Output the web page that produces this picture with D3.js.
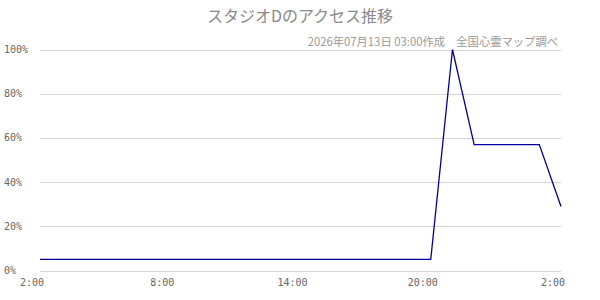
<!DOCTYPE html>
<html><head><meta charset="utf-8">
<script src="https://cdn.jsdelivr.net/npm/d3@7"></script>
<style>body{margin:0;background:#fff}</style>
</head><body>
<svg id="c" width="600" height="300"></svg>
<script>
const titleText = "スタジオDのアクセス推移";
const subtitleText = "2026年07月13日 03:00作成　全国心霊マップ調べ";
// hours elapsed since 2:00
const hours = [0,1,2,3,4,5,6,7,8,9,10,11,12,13,14,15,16,17,18,19,20,21,22,23,24];
const values = [5,5,5,5,5,5,5,5,5,5,5,5,5,5,5,5,5,5,5,100,57,57,57,57,29];
const xTickHours = [0,6,12,18,24];
const xTickLabels = ["2:00","8:00","14:00","20:00","2:00"];
const yTicks = [0,20,40,60,80,100];

const svg = d3.select("#c");
const x = d3.scaleLinear().domain([0,24]).range([40,561]);
const y = d3.scaleLinear().domain([0,100]).range([270.5,49.5]);

svg.append("text").attr("x",300).attr("y",22).attr("text-anchor","middle")
  .attr("font-family","'Noto Sans CJK JP'").attr("font-size",16).attr("fill","#8a8a8a")
  .text(titleText);
svg.append("text").attr("x",558).attr("y",46).attr("text-anchor","end")
  .attr("font-family","'Noto Sans CJK JP'").attr("font-size",11.3).attr("fill","#999")
  .text(subtitleText);

svg.append("g").selectAll("line").data(yTicks).join("line")
  .attr("x1",40).attr("x2",561)
  .attr("y1",d=>Math.round(y(d))+0.5).attr("y2",d=>Math.round(y(d))+0.5)
  .attr("stroke","#d4d4d4").attr("stroke-width",1);

svg.append("g").selectAll("text").data(yTicks).join("text")
  .attr("x",4).attr("y",d=>y(d)+3.5)
  .attr("font-family","'DejaVu Sans Mono'").attr("font-size",10).attr("fill","#666")
  .text(d=>d+"%");

svg.append("g").selectAll("text").data(xTickHours).join("text")
  .attr("x",d=>x(d)-8).attr("y",286).attr("text-anchor","middle")
  .attr("font-family","'DejaVu Sans Mono'").attr("font-size",10).attr("fill","#666")
  .text((d,i)=>xTickLabels[i]);

const line = d3.line().x((d,i)=>x(hours[i])).y(d=>y(d));
svg.append("path").datum(values).attr("d",line)
  .attr("fill","none").attr("stroke","#00009a").attr("stroke-width",1.3);
</script>
</body></html>
